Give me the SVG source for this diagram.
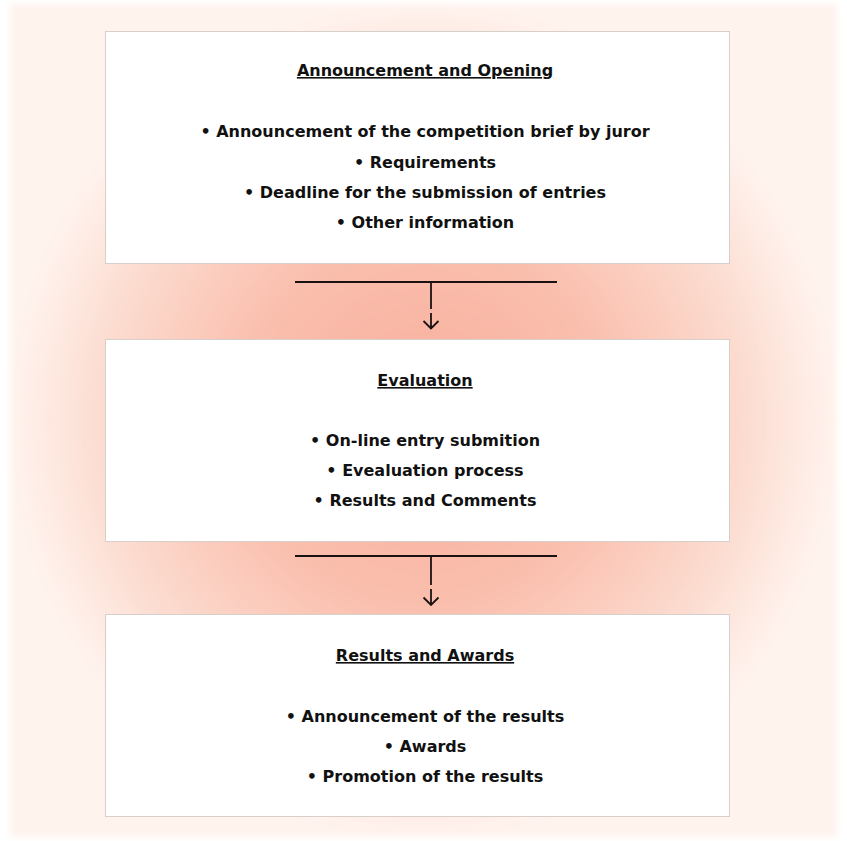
<svg xmlns="http://www.w3.org/2000/svg" width="847" height="841" viewBox="0 0 847 841">
  <defs>
    <radialGradient id="glow" cx="50%" cy="50%" r="50%">
      <stop offset="0" stop-color="#f8ad9b"/>
      <stop offset="0.45" stop-color="#fabfae"/>
      <stop offset="0.78" stop-color="#fcdcd0"/>
      <stop offset="1" stop-color="#fff3ee"/>
    </radialGradient>
    <filter id="soft" x="-5%" y="-5%" width="110%" height="110%">
      <feGaussianBlur stdDeviation="3"/>
    </filter>
  </defs>
  <style>
    .box { fill: #ffffff; stroke: #d6cfcb; stroke-width: 1; }
    .title { font-family: "DejaVu Sans", "Liberation Sans", sans-serif; font-weight: bold; font-size: 16px; fill: #111111; text-anchor: middle; text-decoration: underline; }
    .item { font-family: "DejaVu Sans", "Liberation Sans", sans-serif; font-weight: bold; font-size: 16px; fill: #111111; text-anchor: middle; }
    .conn { fill: none; stroke: #1a1212; stroke-width: 1.8; }
  </style>
  <rect x="0" y="0" width="847" height="841" fill="#ffffff"/>
  <rect x="10" y="4" width="827" height="833" fill="url(#glow)" filter="url(#soft)"/>

  <g id="node-announcement">
    <rect class="box" x="105.5" y="31.5" width="624" height="232"/>
    <text class="title" x="425" y="76">Announcement and Opening</text>
    <text class="item" x="425" y="137">• Announcement of the competition brief by juror</text>
    <text class="item" x="425" y="168">• Requirements</text>
    <text class="item" x="425" y="198">• Deadline for the submission of entries</text>
    <text class="item" x="425" y="228">• Other information</text>
  </g>

  <g id="node-evaluation">
    <rect class="box" x="105.5" y="339.5" width="624" height="202"/>
    <text class="title" x="425" y="386">Evaluation</text>
    <text class="item" x="425" y="446">• On-line entry submition</text>
    <text class="item" x="425" y="476">• Evealuation process</text>
    <text class="item" x="425" y="506">• Results and Comments</text>
  </g>

  <g id="node-results">
    <rect class="box" x="105.5" y="614.5" width="624" height="202"/>
    <text class="title" x="425" y="661">Results and Awards</text>
    <text class="item" x="425" y="722">• Announcement of the results</text>
    <text class="item" x="425" y="752">• Awards</text>
    <text class="item" x="425" y="782">• Promotion of the results</text>
  </g>

  <g id="connectors">
    <path class="conn" d="M295 282 H557 M431 282 V309 M431 313 V328 M423.5 321 L431 328.5 L438.5 321"/>
    <path class="conn" d="M295 556 H557 M431 556 V585 M431 589 V604 M423.5 597.5 L431 605 L438.5 597.5"/>
  </g>
</svg>
